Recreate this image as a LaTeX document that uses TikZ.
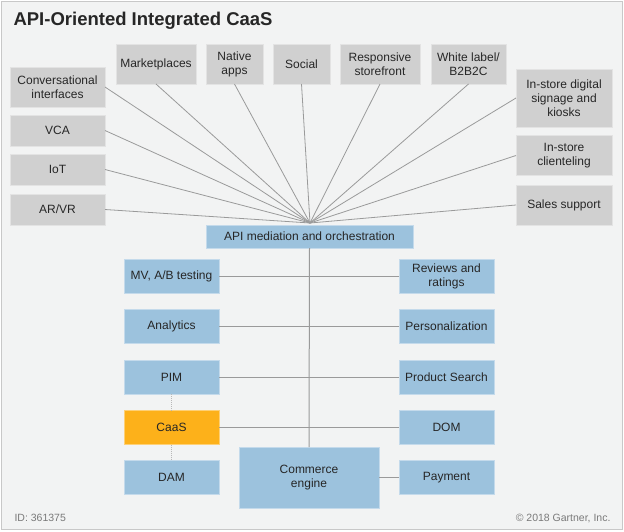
\documentclass[tikz,border=0pt]{standalone}
\usepackage{fontspec}
\setmainfont{Liberation Sans}
\usepackage{tikz}

\definecolor{bgpanel}{HTML}{F2F3F3}
\definecolor{framegray}{HTML}{C8C8C8}
\definecolor{chgray}{HTML}{D0D0D0}
\definecolor{svcblue}{HTML}{9CC2DD}
\definecolor{caasorange}{HTML}{FDB11A}
\definecolor{wiregray}{HTML}{9A9A9A}
\definecolor{inkdark}{HTML}{262626}
\definecolor{footgray}{HTML}{7A7A7A}

\tikzset{
    box/.style={inner sep=0pt, outer sep=0pt, align=center, text=inkdark,
                font=\fontsize{12}{14}\selectfont},
    chan/.style={box, fill=chgray, draw=chgray!60!white, line width=0.5pt},
    svc/.style={box, fill=svcblue, draw=svcblue!60!white, line width=0.5pt,
                minimum width=95pt, minimum height=34pt},
    fan/.style={draw=wiregray, line width=0.8pt},
    bus/.style={draw=wiregray, line width=1pt}
}

\begin{document}
\begin{tikzpicture}[x=1pt, y=-1pt]
            \useasboundingbox (0,0) rectangle (624,531);
            \draw [framegray, fill=bgpanel, line width=1pt] (1.5,1.5) rectangle (622.5,529);
            % title and footer
            \node [anchor=west, text=inkdark, font=\fontsize{18.5}{22}\selectfont\bfseries] (title) at (10,21) {API-Oriented Integrated CaaS};
            \node [anchor=west, text=footgray, font=\fontsize{10.5}{12}\selectfont] (id) at (11,518) {ID: 361375};
            \node [anchor=east, text=footgray, font=\fontsize{10.5}{12}\selectfont] (copy) at (614,518) {\textcopyright{} 2018 Gartner, Inc.};
            % channels, left column
            \node [chan, minimum width=95pt, minimum height=40pt] (conv) at (57.5,87) {Conversational\\interfaces};
            \node [chan, minimum width=95pt, minimum height=31pt] (vca) at (57.5,130.5) {VCA};
            \node [chan, minimum width=95pt, minimum height=31pt] (iot) at (57.5,169.5) {IoT};
            \node [chan, minimum width=95pt, minimum height=31pt] (arvr) at (57.5,209.5) {AR/VR};
            % channels, top row
            \node [chan, minimum width=80pt, minimum height=40pt] (market) at (156,64) {Marketplaces};
            \node [chan, minimum width=57pt, minimum height=40pt] (native) at (234.5,64) {Native\\apps};
            \node [chan, minimum width=57pt, minimum height=40pt] (social) at (301.5,64) {Social};
            \node [chan, minimum width=80pt, minimum height=40pt] (storefront) at (380,64) {Responsive\\storefront};
            \node [chan, minimum width=75pt, minimum height=40pt] (whitelabel) at (468.5,64) {White label/\\B2B2C};
            % channels, right column
            \node [chan, minimum width=96pt, minimum height=58pt] (signage) at (564,98) {In-store digital\\signage and\\kiosks};
            \node [chan, minimum width=96pt, minimum height=40pt] (clientel) at (564,155.5) {In-store\\clienteling};
            \node [chan, minimum width=96pt, minimum height=40pt] (sales) at (564,205) {Sales support};
            % fan into the API layer
            \coordinate (hub) at (310,223);
            \foreach \n in {conv,vca,iot,arvr}
                \draw [fan] (hub) -- (\n.east);
            \foreach \n in {market,native,social,storefront,whitelabel}
                \draw [fan] (hub) -- (\n.south);
            \foreach \n in {signage,clientel,sales}
                \draw [fan] (hub) -- (\n.west);
            % services
            \node [svc, minimum width=207pt, minimum height=23pt] (api) at (309.5,236.5) {API mediation and orchestration};
            \node [svc] (mvab) at (171.5,276) {MV, A/B testing};
            \node [svc] (analytics) at (171.5,326) {Analytics};
            \node [svc] (pim) at (171.5,377) {PIM};
            \node [svc, fill=caasorange, draw=caasorange!60!white] (caas) at (171.5,427.5) {CaaS};
            \node [svc] (dam) at (171.5,477.5) {DAM};
            \node [svc] (reviews) at (446.5,276) {Reviews and\\ratings};
            \node [svc] (personal) at (446.5,326) {Personalization};
            \node [svc] (search) at (446.5,377) {Product Search};
            \node [svc] (dom) at (446.5,427.5) {DOM};
            \node [svc] (payment) at (446.5,477.5) {Payment};
            \node [svc, minimum width=140pt, minimum height=61pt] (engine) at (309,477.5) {Commerce\\engine};
            % wiring
            \draw [bus] (api.south) -- (engine.north);
            \draw [bus] (mvab.east) -- (reviews.west);
            \draw [bus] (analytics.east) -- (personal.west);
            \draw [bus] (pim.east) -- (search.west);
            \draw [bus] (caas.east) -- (dom.west);
            \draw [bus] (engine.east) -- (payment.west);
            \draw [wiregray!70, line width=1pt, densely dotted] (pim.south) -- (caas.north);
            \draw [wiregray!70, line width=1pt, densely dotted] (caas.south) -- (dam.north);
        \end{tikzpicture}
\end{document}
